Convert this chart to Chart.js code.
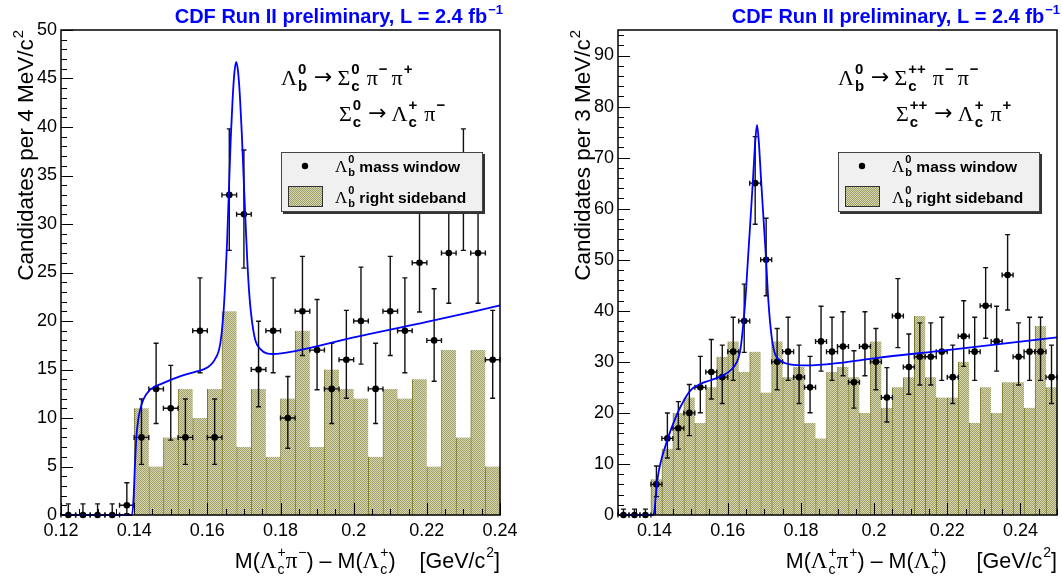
<!DOCTYPE html>
<html>
<head>
<meta charset="utf-8">
<script src="https://cdn.jsdelivr.net/npm/chart.js@4.4.1/dist/chart.umd.min.js"></script>
<style>
  html, body { margin: 0; padding: 0; background: #fff; }
  #wrap { position: relative; width: 1062px; height: 581px; overflow: hidden; }
  canvas { position: absolute; top: 0; }
  #left { left: 0; }
  #right { left: 557px; }
</style>
</head>
<body>
<div id="wrap">
  <canvas id="left" width="557" height="581"></canvas>
  <canvas id="right" width="505" height="581"></canvas>
</div>
<script>
// ---- left panel: Sigma_c0, 4 MeV bins ----
const leftCenters = [0.122, 0.126, 0.130, 0.134, 0.138, 0.142, 0.146, 0.150, 0.154, 0.158,
  0.162, 0.166, 0.170, 0.174, 0.178, 0.182, 0.186, 0.190, 0.194, 0.198,
  0.202, 0.206, 0.210, 0.214, 0.218, 0.222, 0.226, 0.230, 0.234, 0.238];
const leftSignal = [0, 0, 0, 0, 1, 8, 13, 11, 8, 19,
  8, 33, 31, 15, 19, 10, 21, 17, 13, 16,
  20, 13, 21, 19, 26, 18, 27, 33, 27, 16];
const leftSideband = [0, 0, 0, 0, 0, 11, 5, 8, 13, 10,
  13, 21, 7, 13, 6, 12, 19, 7, 15, 13,
  12, 6, 13, 12, 14, 5, 17, 8, 17, 5];
const leftFitX = [0.120, 0.1394, 0.1398, 0.1402, 0.1406, 0.1411, 0.1416, 0.1425, 0.1443, 0.1479,
  0.1525, 0.1571, 0.1600, 0.1620, 0.1635, 0.1644, 0.1649, 0.1654, 0.1659, 0.1664,
  0.1669, 0.1674, 0.1679, 0.1684, 0.1689, 0.1694, 0.1699, 0.1704, 0.1709, 0.1714,
  0.1720, 0.1730, 0.1745, 0.1780, 0.1840, 0.2000, 0.2200, 0.2400];
const leftFitY = [0, 0, 1.5, 5, 8, 9.8, 10.8, 11.9, 12.9, 13.6,
  14.3, 14.8, 15.2, 16.0, 17.6, 20.8, 24.0, 28.2, 33.5, 38.8,
  42.8, 45.6, 46.7, 45.7, 43.2, 39.5, 35.0, 30.5, 26.4, 23.1,
  20.6, 18.2, 17.1, 16.6, 16.9, 18.3, 19.9, 21.6];
const leftXTicks = [0.12, 0.14, 0.16, 0.18, 0.2, 0.22, 0.24];
const leftYTicks = [0, 5, 10, 15, 20, 25, 30, 35, 40, 45, 50];

// ---- right panel: Sigma_c++, 3 MeV bins ----
const rightCenters = [0.1315, 0.1345, 0.1375, 0.1405, 0.1435, 0.1465, 0.1495, 0.1525, 0.1555, 0.1585,
  0.1615, 0.1645, 0.1675, 0.1705, 0.1735, 0.1765, 0.1795, 0.1825, 0.1855, 0.1885,
  0.1915, 0.1945, 0.1975, 0.2005, 0.2035, 0.2065, 0.2095, 0.2125, 0.2155, 0.2185,
  0.2215, 0.2245, 0.2275, 0.2305, 0.2335, 0.2365, 0.2395, 0.2425, 0.2455, 0.2485];
const rightSignal = [0, 0, 0, 6, 15, 17, 20, 25, 28, 27,
  32, 38, 65, 50, 30, 32, 27, 25, 34, 32,
  33, 26, 33, 30, 23, 39, 29, 31, 31, 32,
  27, 35, 32, 41, 34, 47, 31, 32, 32, 27];
const rightSideband = [0, 0, 0, 7, 13, 20, 23, 18, 25, 31,
  34, 28, 32, 24, 34, 27, 29, 18, 15, 28,
  29, 27, 20, 34, 21, 25, 27, 39, 27, 23,
  23, 30, 18, 25, 20, 26, 26, 21, 37, 25];
const rightFitX = [0.130, 0.1396, 0.1400, 0.1403, 0.1407, 0.1412, 0.1419, 0.1426, 0.1439, 0.1453,
  0.1471, 0.1498, 0.1526, 0.1553, 0.1589, 0.1610, 0.1625, 0.1633, 0.1639, 0.1648,
  0.1656, 0.1664, 0.1670, 0.1675, 0.1680, 0.1685, 0.1690, 0.1696, 0.1704, 0.1711,
  0.1720, 0.1729, 0.1743, 0.1770, 0.1816, 0.1906, 0.2000, 0.2200, 0.2500];
const rightFitY = [0, 0, 1.0, 3.6, 6.5, 8.8, 11.0, 12.7, 15.6, 18.3,
  21.2, 24.4, 25.7, 26.4, 27.4, 28.5, 30.0, 31.8, 34.9, 42,
  51, 60, 67, 73, 76.4, 73, 67, 60, 51, 42,
  34.9, 31.6, 30.3, 29.5, 29.3, 29.8, 30.7, 32.3, 34.8];
const rightXTicks = [0.14, 0.16, 0.18, 0.2, 0.22, 0.24];
const rightYTicks = [0, 10, 20, 30, 40, 50, 60, 70, 80, 90];

const SANS = '"Liberation Sans", Arial, Helvetica, sans-serif';
const SERIF = '"Liberation Serif", "Times New Roman", serif';
const ARROWFONT = '"DejaVu Sans", sans-serif';

Chart.defaults.font.family = SANS;
Chart.defaults.color = '#000';

// Poisson (Gehrels) error bars, as ROOT draws them
function errUp(n) { return n > 0 ? Math.sqrt(n + 0.75) + 1 : 1.15; }
function errDown(n) { return n > 0 ? Math.sqrt(n - 0.25) : 0; }

function makePattern(ctx) {
  const c = document.createElement('canvas');
  c.width = 2; c.height = 2;
  const g = c.getContext('2d');
  g.fillStyle = '#d5d4b0';
  g.fillRect(0, 0, 2, 2);
  g.fillStyle = '#a3a26a';
  g.fillRect(0, 0, 1, 1);
  g.fillRect(1, 1, 1, 1);
  return ctx.createPattern(c, 'repeat');
}

// small rich text renderer: parts with stacked super/subscripts
function baseFont(p, o) {
  if (p.f === 'serif') return (o.serifSize || o.size) + 'px ' + SERIF;
  if (p.f === 'arrow') return (o.serifSize || o.size) + 'px ' + ARROWFONT;
  return (o.bold ? 'bold ' : '') + o.size + 'px ' + SANS;
}
function scriptFont(o) {
  return (o.scriptBold ? 'bold ' : '') + (o.scriptSize || Math.round(o.size * 0.68)) + 'px ' + SANS;
}
function partWidth(ctx, p, o) {
  ctx.font = baseFont(p, o);
  const w = ctx.measureText(p.t).width;
  ctx.font = scriptFont(o);
  let sw = 0;
  if (p.sup) sw = Math.max(sw, ctx.measureText(p.sup).width);
  if (p.sub) sw = Math.max(sw, ctx.measureText(p.sub).width);
  return (p.padL || 0) + w + (sw ? sw + 1 : 0) + (p.padR || 0);
}
function richWidth(ctx, parts, o) {
  return parts.reduce((a, p) => a + partWidth(ctx, p, o), 0);
}
function drawRich(ctx, parts, x, y, o) {
  const total = richWidth(ctx, parts, o);
  let cx = o.align === 'right' ? x - total : x;
  ctx.fillStyle = o.color || '#000';
  ctx.textBaseline = 'alphabetic';
  ctx.textAlign = 'left';
  const size = o.serifSize || o.size;
  parts.forEach(p => {
    const w = partWidth(ctx, p, o);
    const bx = cx + (p.padL || 0);
    ctx.font = baseFont(p, o);
    ctx.fillText(p.t, bx, y + (p.dy || 0));
    const bw = ctx.measureText(p.t).width;
    ctx.font = scriptFont(o);
    if (p.sup) ctx.fillText(p.sup, bx + bw + 1, y - size * (o.supOff || 0.5));
    if (p.sub) ctx.fillText(p.sub, bx + bw + 1, y + size * (o.subOff || 0.28));
    cx += w;
  });
  return total;
}

const framePlugin = {
  id: 'frame',
  afterDatasetsDraw(chart) {
    const p = chart.canvas.$panel;
    const { ctx, chartArea: a, scales: { x, y } } = chart;
    ctx.save();
    ctx.strokeStyle = '#000';
    ctx.lineWidth = 1;
    const nx = Math.round((p.xMax - p.xMin) / 0.005);
    for (let i = 0; i <= nx; i++) {
      const v = p.xMin + i * 0.005;
      const major = Math.abs(v / 0.02 - Math.round(v / 0.02)) < 1e-6;
      const px = Math.round(x.getPixelForValue(v)) + 0.5;
      ctx.beginPath();
      ctx.moveTo(px, a.bottom);
      ctx.lineTo(px, a.bottom - (major ? 12 : 6));
      ctx.stroke();
    }
    const ny = Math.floor(p.yMax / p.yMinor + 1e-6);
    for (let i = 0; i <= ny; i++) {
      const v = i * p.yMinor;
      const major = Math.abs(v / p.yMajor - Math.round(v / p.yMajor)) < 1e-6;
      const py = Math.round(y.getPixelForValue(v)) + 0.5;
      ctx.beginPath();
      ctx.moveTo(a.left, py);
      ctx.lineTo(a.left + (major ? 12 : 6), py);
      ctx.stroke();
    }
    ctx.lineWidth = 1.5;
    ctx.strokeRect(a.left, a.top, a.right - a.left, a.bottom - a.top);
    ctx.restore();
  }
};

const errorBarPlugin = {
  id: 'errbars',
  beforeDatasetDraw(chart, args) {
    const ds = chart.data.datasets[args.index];
    if (ds.type !== 'scatter') return;
    const half = chart.canvas.$panel.halfWidth;
    const { ctx, scales: { x, y } } = chart;
    ctx.save();
    ctx.strokeStyle = '#111';
    ctx.lineWidth = 1.4;
    ds.data.forEach(pt => {
      const cx = x.getPixelForValue(pt.x);
      const cy = y.getPixelForValue(pt.y);
      const top = y.getPixelForValue(pt.y + errUp(pt.y));
      const bot = y.getPixelForValue(pt.y - errDown(pt.y));
      const l = x.getPixelForValue(pt.x - half);
      const r = x.getPixelForValue(pt.x + half);
      ctx.beginPath();
      ctx.moveTo(cx, top); ctx.lineTo(cx, bot);
      ctx.moveTo(l, cy); ctx.lineTo(r, cy);
      ctx.moveTo(cx - 2.5, top); ctx.lineTo(cx + 2.5, top);
      ctx.moveTo(cx - 2.5, bot); ctx.lineTo(cx + 2.5, bot);
      ctx.moveTo(l, cy - 2.5); ctx.lineTo(l, cy + 2.5);
      ctx.moveTo(r, cy - 2.5); ctx.lineTo(r, cy + 2.5);
      ctx.stroke();
    });
    ctx.restore();
  }
};

const textPlugin = {
  id: 'texts',
  afterDraw(chart) {
    const p = chart.canvas.$panel;
    const ctx = chart.ctx;
    ctx.save();
    // header
    drawRich(ctx, [{ t: 'CDF Run II preliminary, L = 2.4 fb', sup: '\u22121' }], 503, 23,
      { size: 20, bold: true, scriptBold: true, scriptSize: 13, supOff: 0.45, color: '#0000ff', align: 'right' });
    // y title, rotated, right end at the top of the frame
    const yo = { size: 22.5, scriptSize: 15, supOff: 0.45 };
    const yw = richWidth(ctx, p.yTitle, yo);
    ctx.save();
    ctx.translate(33, 30);
    ctx.rotate(-Math.PI / 2);
    drawRich(ctx, p.yTitle, -yw, 0, yo);
    ctx.restore();
    // x title
    drawRich(ctx, p.xTitle, 500, 568,
      { size: 21.5, serifSize: 23, scriptSize: 14, supOff: 0.5, subOff: 0.24, align: 'right' });
    // decay chain
    const dOpt = { size: 22, serifSize: 22, scriptBold: true, scriptSize: 15, supOff: 0.52, subOff: 0.27 };
    drawRich(ctx, p.decay1, 281, 85, dOpt);
    drawRich(ctx, p.decay2, 339, 121, dOpt);
    // legend box
    ctx.fillStyle = '#333';
    ctx.fillRect(283, 154, 202, 60);
    ctx.fillStyle = '#f0f0f0';
    ctx.fillRect(281, 152, 202, 60);
    ctx.strokeStyle = '#444';
    ctx.lineWidth = 1;
    ctx.strokeRect(281.5, 152.5, 201, 59);
    ctx.fillStyle = '#000';
    ctx.beginPath();
    ctx.arc(305, 166, 3.2, 0, Math.PI * 2);
    ctx.fill();
    ctx.fillStyle = chart.canvas.$pattern;
    ctx.fillRect(288, 186, 35, 21);
    ctx.strokeStyle = '#333';
    ctx.strokeRect(288.5, 186.5, 34, 20);
    const lOpt = { size: 15.5, bold: true, serifSize: 17, scriptBold: true, scriptSize: 11, supOff: 0.52, subOff: 0.22 };
    drawRich(ctx, [{ t: '\u039b', f: 'serif', sup: '0', sub: 'b' }, { t: ' mass window' }], 335, 172, lOpt);
    drawRich(ctx, [{ t: '\u039b', f: 'serif', sup: '0', sub: 'b' }, { t: ' right sideband' }], 335, 203, lOpt);
    ctx.restore();
  }
};

function makePanel(p) {
  const canvas = document.getElementById(p.canvas);
  const ctx = canvas.getContext('2d');
  const pattern = makePattern(ctx);
  canvas.$panel = p;
  canvas.$pattern = pattern;
  return new Chart(ctx, {
    type: 'bar',
    data: {
      datasets: [
        {
          type: 'line',
          data: p.fitX.map((x, i) => ({ x, y: p.fitY[i] })),
          borderColor: '#0000ff',
          borderWidth: 1.8,
          pointRadius: 0,
          fill: false,
          cubicInterpolationMode: 'monotone',
          clip: false,
          order: 1
        },
        {
          type: 'scatter',
          data: p.centers.map((x, i) => ({ x, y: p.signal[i] })),
          pointRadius: 3.3,
          pointBackgroundColor: '#000',
          pointBorderWidth: 0,
          clip: false,
          order: 2
        },
        {
          type: 'bar',
          data: p.centers.map((x, i) => ({ x, y: p.sideband[i] })),
          backgroundColor: pattern,
          borderColor: '#7b7a2c',
          borderWidth: { left: 1, right: 0, top: 0, bottom: 0 },
          barPercentage: 1,
          categoryPercentage: 1,
          order: 3
        }
      ]
    },
    options: {
      responsive: false,
      devicePixelRatio: 1,
      animation: false,
      events: [],
      layout: { autoPadding: false, padding: { left: 0, top: 30, right: canvas.width - 500, bottom: 0 } },
      plugins: { legend: { display: false }, tooltip: { enabled: false } },
      scales: {
        x: {
          type: 'linear',
          offset: false,
          min: p.xMin,
          max: p.xMax,
          grid: { display: false, drawTicks: false },
          border: { display: false },
          afterBuildTicks: s => { s.ticks = p.xTicks.map(v => ({ value: v })); },
          afterFit: s => { s.height = 66; s.paddingLeft = 0; s.paddingRight = 0; },
          ticks: {
            font: { size: 18 },
            padding: 5,
            maxRotation: 0,
            autoSkip: false,
            callback: v => String(parseFloat(Number(v).toFixed(3)))
          }
        },
        y: {
          min: 0,
          max: p.yMax,
          grid: { display: false, drawTicks: false },
          border: { display: false },
          afterBuildTicks: s => { s.ticks = p.yTicks.map(v => ({ value: v })); },
          afterFit: s => { s.width = 61; s.paddingTop = 0; s.paddingBottom = 0; },
          ticks: { font: { size: 18 }, padding: 4, autoSkip: false }
        }
      }
    },
    plugins: [errorBarPlugin, framePlugin, textPlugin]
  });
}

const L = '\u039b', S = '\u03a3', PI = '\u03c0', MINUS = '\u2212';
const ARROW = { t: '\u2192', f: 'arrow', padL: 7, padR: 5, dy: -1 };

makePanel({
  canvas: 'left',
  centers: leftCenters, signal: leftSignal, sideband: leftSideband,
  fitX: leftFitX, fitY: leftFitY,
  xMin: 0.12, xMax: 0.24, yMax: 50, yMinor: 1, yMajor: 5, halfWidth: 0.002,
  xTicks: leftXTicks, yTicks: leftYTicks,
  yTitle: [{ t: 'Candidates per 4 MeV/c', sup: '2' }],
  xTitle: [{ t: 'M(' }, { t: L, f: 'serif', sup: '+', sub: 'c' }, { t: PI, f: 'serif', sup: MINUS },
    { t: ') \u2013 M(' }, { t: L, f: 'serif', sup: '+', sub: 'c' }, { t: ')    [GeV/c', sup: '2' }, { t: ']' }],
  decay1: [{ t: L, f: 'serif', sup: '0', sub: 'b' }, ARROW, { t: S, f: 'serif', sup: '0', sub: 'c' },
    { t: PI, f: 'serif', sup: MINUS, padL: 7 }, { t: PI, f: 'serif', sup: '+', padL: 4 }],
  decay2: [{ t: S, f: 'serif', sup: '0', sub: 'c' }, ARROW, { t: L, f: 'serif', sup: '+', sub: 'c' },
    { t: PI, f: 'serif', sup: MINUS, padL: 7 }]
});

makePanel({
  canvas: 'right',
  centers: rightCenters, signal: rightSignal, sideband: rightSideband,
  fitX: rightFitX, fitY: rightFitY,
  xMin: 0.13, xMax: 0.25, yMax: 95, yMinor: 2, yMajor: 10, halfWidth: 0.0015,
  xTicks: rightXTicks, yTicks: rightYTicks,
  yTitle: [{ t: 'Candidates per 3 MeV/c', sup: '2' }],
  xTitle: [{ t: 'M(' }, { t: L, f: 'serif', sup: '+', sub: 'c' }, { t: PI, f: 'serif', sup: '+' },
    { t: ') \u2013 M(' }, { t: L, f: 'serif', sup: '+', sub: 'c' }, { t: ')     [GeV/c', sup: '2' }, { t: ']' }],
  decay1: [{ t: L, f: 'serif', sup: '0', sub: 'b' }, ARROW, { t: S, f: 'serif', sup: '++', sub: 'c' },
    { t: PI, f: 'serif', sup: MINUS, padL: 7 }, { t: PI, f: 'serif', sup: MINUS, padL: 4 }],
  decay2: [{ t: S, f: 'serif', sup: '++', sub: 'c' }, ARROW, { t: L, f: 'serif', sup: '+', sub: 'c' },
    { t: PI, f: 'serif', sup: '+', padL: 7 }]
});
</script>
</body>
</html>
